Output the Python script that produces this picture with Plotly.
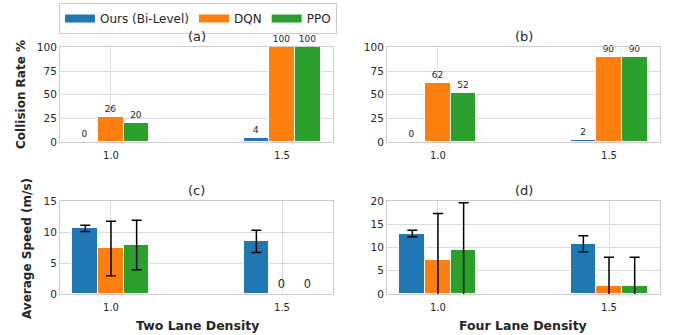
import numpy as np
import plotly.graph_objects as go

# ---------------- data ----------------
densities = [1.0, 1.5]
methods = ["Ours (Bi-Level)", "DQN", "PPO"]
colors = ["#1f77b4", "#ff7f0e", "#2ca02c"]

collision_two = {"Ours (Bi-Level)": [0, 4], "DQN": [26, 100], "PPO": [20, 100]}
collision_four = {"Ours (Bi-Level)": [0, 2], "DQN": [62, 90], "PPO": [52, 90]}

speed_two = {"Ours (Bi-Level)": [10.6, 8.5], "DQN": [7.35, 0], "PPO": [7.9, 0]}
speed_two_err = {"Ours (Bi-Level)": [0.5, 1.8], "DQN": [4.4, None], "PPO": [4.0, None]}
speed_four = {"Ours (Bi-Level)": [13.0, 10.8], "DQN": [7.4, 1.75], "PPO": [9.5, 1.75]}
speed_four_err = {"Ours (Bi-Level)": [0.7, 1.7], "DQN": [9.9, 6.15], "PPO": [10.1, 6.15]}

panel_titles = ["(a)", "(b)", "(c)", "(d)"]
y_titles = ["Collision Rate %", "Average Speed (m/s)"]
x_titles = ["Two Lane Density", "Four Lane Density"]
tick_vals = [1.0, 1.5]
tick_text = ["1.0", "1.5"]

bar_width = 0.075
offsets = [-0.075, 0.0, 0.075]

W, H = 678, 335
FONT = "DejaVu Sans"
TXT = "#262626"
GRID = "#dcdcdc"

# subplot boxes in pixels (left, right, top, bottom)
boxes = {
    1: (60, 333, 47, 142),
    2: (387, 660, 47, 142),
    3: (60, 333, 201, 294),
    4: (387, 660, 201, 294),
}
yranges = {1: [0, 100.5], 2: [0, 100.5], 3: [0, 15], 4: [0, 20]}
ydticks = {1: 25, 2: 25, 3: 5, 4: 5}

fig = go.Figure()


def add_panel(idx, values, errors=None, label_mode="all", label_size=9):
    xa = "x" if idx == 1 else f"x{idx}"
    ya = "y" if idx == 1 else f"y{idx}"
    for m, c, off in zip(methods, colors, offsets):
        vals = values[m]
        xs = [d + off for d in densities]
        if label_mode == "all":
            txt = [f"{v:g}" for v in vals]
        elif label_mode == "zero":
            txt = ["0" if v == 0 else "" for v in vals]
        else:
            txt = None
        kw = {}
        if errors is not None:
            arr = np.array([np.nan if e is None else e for e in errors[m]], dtype=float)
            kw["error_y"] = dict(type="data", array=arr, visible=True,
                                 color="black", thickness=1.5, width=5)
        fig.add_trace(go.Bar(
            x=xs, y=vals, width=bar_width,
            marker=dict(color=c, line=dict(color="white", width=1)),
            text=txt, textposition="outside",
            textfont=dict(size=label_size, color=TXT, family=FONT),
            cliponaxis=False, showlegend=False, xaxis=xa, yaxis=ya, **kw))


add_panel(1, collision_two, label_mode="all", label_size=9)
add_panel(2, collision_four, label_mode="all", label_size=9)
add_panel(3, speed_two, speed_two_err, label_mode="zero", label_size=11.5)
add_panel(4, speed_four, speed_four_err, label_mode=None)

# legend entries
for m, c in zip(methods, colors):
    fig.add_trace(go.Scatter(x=[None], y=[None], mode="lines", name=m,
                             line=dict(color=c, width=8), showlegend=True))

layout = dict(
    width=W, height=H, margin=dict(l=0, r=0, t=0, b=0, autoexpand=False),
    paper_bgcolor="white", plot_bgcolor="white",
    font=dict(family=FONT, size=10, color=TXT),
    barmode="overlay", bargap=0,
    legend=dict(orientation="h", x=59 / W, y=1 - 3 / H, xanchor="left", yanchor="top",
                bordercolor="#cccccc", borderwidth=1, font=dict(size=12, color=TXT),
                itemwidth=30, tracegroupgap=0),
)
annotations = []
for idx, (l, r, t, b) in boxes.items():
    xk = "xaxis" if idx == 1 else f"xaxis{idx}"
    yk = "yaxis" if idx == 1 else f"yaxis{idx}"
    ya = "y" if idx == 1 else f"y{idx}"
    xa = "x" if idx == 1 else f"x{idx}"
    layout[xk] = dict(domain=[l / W, r / W], range=[0.851, 1.649], anchor=ya,
                      tickvals=tick_vals, ticktext=tick_text, showgrid=True, gridcolor=GRID,
                      gridwidth=1, showline=True, mirror=True, linecolor="#cccccc", linewidth=1,
                      zeroline=False, ticks="", ticklen=0, ticklabelstandoff=4,
                      tickfont=dict(size=10, color=TXT))
    layout[yk] = dict(domain=[1 - b / H, 1 - t / H], range=yranges[idx], anchor=xa,
                      dtick=ydticks[idx], tick0=0, showgrid=True, gridcolor=GRID, gridwidth=1,
                      showline=True, mirror=True, linecolor="#cccccc", linewidth=1,
                      zeroline=False, ticks="", tickfont=dict(size=10.5, color=TXT))
    annotations.append(dict(text=panel_titles[idx - 1], x=(l + r) / 2 / W, y=1 - t / H,
                            xref="paper", yref="paper", xanchor="center", yanchor="bottom",
                            yshift=1, showarrow=False, font=dict(size=13, color=TXT)))

annotations.append(dict(text=f"<b>{y_titles[0]}</b>", x=21 / W, y=1 - 95 / H, xref="paper",
                        yref="paper", textangle=-90, showarrow=False,
                        xanchor="center", yanchor="middle", font=dict(size=12, color=TXT)))
annotations.append(dict(text=f"<b>{y_titles[1]}</b>", x=27 / W, y=1 - 249 / H, xref="paper",
                        yref="paper", textangle=-90, showarrow=False,
                        xanchor="center", yanchor="middle", font=dict(size=12, color=TXT)))
annotations.append(dict(text=f"<b>{x_titles[0]}</b>", x=197 / W, y=1 - 325 / H, xref="paper",
                        yref="paper", showarrow=False, xanchor="center", yanchor="middle",
                        font=dict(size=12.5, color=TXT)))
annotations.append(dict(text=f"<b>{x_titles[1]}</b>", x=523 / W, y=1 - 325 / H, xref="paper",
                        yref="paper", showarrow=False, xanchor="center", yanchor="middle",
                        font=dict(size=12.5, color=TXT)))
layout["annotations"] = annotations
fig.update_layout(**layout)
fig.write_html("out.html", config={"displayModeBar": False},
               post_script="document.body.style.margin='0';")
